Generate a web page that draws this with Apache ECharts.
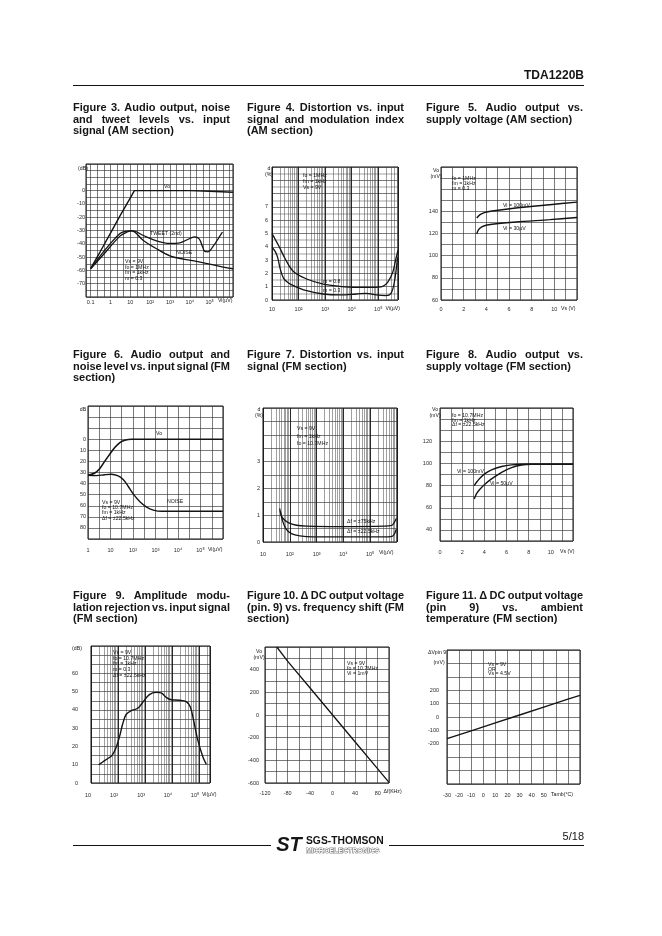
<!DOCTYPE html>
<html><head><meta charset="utf-8">
<script src="https://cdn.jsdelivr.net/npm/echarts@6.0.0/dist/echarts.min.js"></script>
<style>html,body{margin:0;padding:0;background:#fff}#c{width:662px;height:936px}</style>
</head><body><div id="c"></div>
<script>
// ---------------- DATA ----------------
// Figure 3 (AM): audio output, noise, tweet vs input signal
const f3XTicks = ['0.1','1','10','10²','10³','10⁴','10⁵'];
const f3YTicks = [0,-10,-20,-30,-40,-50,-60,-70];
const f3VoX = [0.1,0.3,1,3,10,16,100,1000,10000,100000,1500000];
const f3VoY = [-58.5,-46,-32,-19,-5.5,0,0,0,0,-0.5,-1.2];
const f3TweetX = [0.1,0.43,3,6.5,14,45,210,980,3150,10000,17800,29500,43500,56500,83000,148000,267000,440000];
const f3TweetY = [-58.75,-46.25,-32.25,-30.5,-30.25,-33.75,-37.75,-39.75,-39.25,-36,-34.75,-36.25,-42,-45.75,-46,-42,-36.25,-31.25];
const f3NoiseX = [0.1,0.43,3,6.5,11.6,45,210,980,4600,21700,100000,480000,1500000];
const f3NoiseY = [-58.75,-48.25,-34.25,-31.25,-30.25,-37.5,-43.75,-49,-51.5,-53.25,-55.25,-57.5,-58.75];

// Figure 4 (AM): distortion vs input signal
const f4XTicks = ['10','10²','10³','10⁴','10⁵'];
const f4YTicks = [0,1,2,3,4,5,6,7];
const f4M08X = [10,13.3,17.7,31.4,64,202,850,3550,14800,61700,146000,224000,349000,458000,550000];
const f4M08Y = [5.0,4.55,4.1,3.1,2.14,1.58,1.2,1.03,0.95,0.95,1.03,1.33,2.09,3.1,3.75];
const f4M03X = [10,13.3,16.3,20.4,27.3,42,64,202,850,3550,14800,35000,83000,195000,300000,400000,530000];
const f4M03Y = [3.97,3.64,3.2,2.34,1.63,1.28,1.08,0.7,0.45,0.38,0.45,0.5,0.38,0.33,0.5,1.33,3.2];

// Figure 5 (AM): audio output vs supply voltage
const f5XTicks = [0,2,4,6,8,10];
const f5YTicks = [60,80,100,120,140];
const f5HiX = [3.15,3.45,3.9,4.5,6.6,9.6,12];
const f5HiY = [134,137,139.1,140.3,143,146,148.3];
const f5LoX = [3.15,3.3,3.6,4.05,6.6,9.6,12];
const f5LoY = [119.5,123.2,125.9,127.7,130.4,132.5,134.5];

// Figure 6 (FM): audio output and noise vs input signal
const f6XTicks = ['1','10','10²','10³','10⁴','10⁵'];
const f6YTicks = [0,10,20,30,40,50,60,70,80];
const f6VoX = [1,2,3.3,5.5,9.3,15.5,26,43,86,1000000];
const f6VoY = [32.5,30.4,26.6,20,13.4,7.5,3,0.9,0,0];
const f6NoiseX = [1,2.36,5.5,11,22,36.6,61,102,203,400,800,1900,1000000];
const f6NoiseY = [32.5,32.8,32,31.6,33.1,36.4,42.4,49.3,56.4,61.2,63.9,65,65];

// Figure 7 (FM): distortion vs input signal
const f7XTicks = ['10','10²','10³','10⁴','10⁵'];
const f7YTicks = [0,1,2,3];
const f7HiX = [42,47,56,87,178,422,7500,316000,650000,810000,944000];
const f7HiY = [1.25,1.03,0.875,0.725,0.625,0.59,0.575,0.59,0.625,0.75,0.875];
const f7LoX = [44,53,71,115,237,750,316000,650000,810000,944000];
const f7LoY = [1.15,0.81,0.5,0.31,0.225,0.19,0.19,0.21,0.31,0.475];

// Figure 8 (FM): audio output vs supply voltage
const f8XTicks = [0,2,4,6,8,10];
const f8YTicks = [40,60,80,100,120];
const f8HiX = [3.09,3.3,3.6,4.05,4.65,5.56,6.46,7.36,12];
const f8HiY = [80,83,86.6,90.8,94.2,97.2,98.7,99.2,99.2];
const f8LoX = [3.09,3.3,3.6,4.05,4.65,5.56,6.46,7.36,8.26,12];
const f8LoY = [68,72.8,76.7,81.2,86,92,96.2,98.6,99.2,99.2];

// Figure 9 (FM): AM rejection vs input signal
const f9XTicks = ['10','10²','10³','10⁴','10⁵'];
const f9YTicks = [0,10,20,30,40,50,60];
const f9X = [19.2,27,41,60,84,112,149,198,305,535,820,1440,2560,3900,6000,9200,18600,33000,46500,62000,89000,137000,183000];
const f9Y = [10,11.5,13.3,15.1,19.3,25.1,32.4,37.5,39.6,40.9,44.2,48.4,49.6,49.3,46.9,45.6,45.3,44.5,41.8,34.2,23.3,14.2,10.2];

// Figure 10 (FM): DC output voltage vs frequency shift
const f10XTicks = [-120,-80,-40,0,40,80];
const f10YTicks = [-600,-400,-200,0,200,400];
const f10X = [-99,-80,-40,0,40,80,100];
const f10Y = [600,475,238,0,-238,-475,-594];

// Figure 11 (FM): DC output voltage vs ambient temperature
const f11XTicks = [-30,-20,-10,0,10,20,30,40,50];
const f11YTicks = [-200,-100,0,100,200];
const f11X = [-30,-10,10,30,50,70,80];
const f11Y = [-162,-103,-44,15,74,133,162];

// ---------------- LAYOUT / STYLE ----------------
const FF = '"Liberation Sans", Arial, Helvetica, sans-serif';
const INK = '#141414';
const GRIDC = '#333333';
const grids = [
  {left:86, top:164, width:147, height:133},
  {left:272, top:167, width:126, height:133},
  {left:441, top:167, width:136, height:133},
  {left:88, top:406, width:135, height:133},
  {left:263, top:408, width:134, height:134},
  {left:440, top:408, width:133, height:133},
  {left:91, top:646, width:119, height:137},
  {left:265, top:647, width:124, height:136},
  {left:447, top:650, width:133, height:134}
].map(g => Object.assign({show:true, borderColor:'#111', borderWidth:1, backgroundColor:'rgba(0,0,0,0)', containLabel:false}, g));

const valFmt = ticks => v => ticks.some(t => Math.abs(t - v) < 1e-6) ? String(v) : '';
const logFmt = (ticks, firstExp) => v => {
  const e = Math.log10(v), r = Math.round(e);
  if (Math.abs(e - r) > 1e-6) return '';
  const i = r - firstExp;
  return (i >= 0 && i < ticks.length) ? ticks[i] : '';
};
function axis(gi, type, min, max, interval, fmt, margin, extra) {
  const ax = {type, gridIndex:gi, min, max,
    axisLine:{show:false}, axisTick:{show:false},
    splitLine:{show:true, lineStyle:{color:GRIDC, width:0.65}},
    axisLabel:{fontSize:5.5, color:'#2a2a2a', fontFamily:FF, margin, formatter:fmt, showMinLabel:true, showMaxLabel:true}};
  if (interval != null) ax.interval = interval;
  if (type === 'log') ax.logBase = 10;
  if (extra) {
    if (extra.axisLabel) { Object.assign(ax.axisLabel, extra.axisLabel); delete extra.axisLabel; }
    Object.assign(ax, extra);
  }
  return ax;
}
const xAxes = [
  axis(0,'log',0.0581,1.503e6,null,logFmt(f3XTicks,-1),2),
  axis(1,'log',10,5.5e5,null,logFmt(f4XTicks,1),6, {splitLine:{show:true,lineStyle:{color:'#111',width:0.9}}}),
  axis(2,'value',0,12,1,valFmt(f5XTicks),6),
  axis(3,'log',1,1e6,null,logFmt(f6XTicks,0),8.5),
  axis(4,'log',10,1e6,null,logFmt(f7XTicks,1),9, {splitLine:{show:true,lineStyle:{color:'#111',width:0.9}}}),
  axis(5,'value',0,12,1,valFmt(f8XTicks),8),
  axis(6,'log',10,2.5e5,null,logFmt(f9XTicks,1),9.5, {axisLabel:{align:'right'}, splitLine:{show:true,lineStyle:{color:'#111',width:0.9}}}),
  axis(7,'value',-120,100,20,valFmt(f10XTicks),7),
  axis(8,'value',-30,80,10,valFmt(f11XTicks),8)
];
const yAxes = [
  axis(0,'value',-80,20,5,valFmt(f3YTicks),1),
  axis(1,'value',0,10,1,valFmt(f4YTicks),4, {minorTick:{show:false,splitNumber:2}, minorSplitLine:{show:true,lineStyle:{color:GRIDC,width:0.45}}}),
  axis(2,'value',60,180,10,valFmt(f5YTicks),3),
  axis(3,'value',-30,90,10,valFmt(f6YTicks),2, {inverse:true}),
  axis(4,'value',0,5,0.5,valFmt(f7YTicks),3),
  axis(5,'value',30,150,10,valFmt(f8YTicks),8),
  axis(6,'value',0,75,5,valFmt(f9YTicks),13),
  axis(7,'value',-600,600,100,valFmt(f10YTicks),6),
  axis(8,'value',-500,500,100,valFmt(f11YTicks),8)
];

function logPaper(lo, hi) { const out = []; for (let d = -2; d <= 7; d++) for (let k = 2; k <= 9; k++) { const v = k * Math.pow(10, d); if (v > lo * 1.0001 && v < hi * 0.9999) out.push(v); } return out; }
function logFrac(lo, hi, fr) { const out = []; for (let d = -3; d <= 7; d++) fr.forEach(f => { const v = Math.pow(10, d + f); if (v > lo * 1.0001 && v < hi * 0.9999) out.push(v); }); return out; }
function gridLines(gi, vals, color, width) {
  return {type:'line', xAxisIndex:gi, yAxisIndex:gi, data:[], silent:true, z:1,
    markLine:{silent:true, symbol:['none','none'], animation:false, label:{show:false}, emphasis:{disabled:true},
      lineStyle:{color, width, type:'solid'}, data: vals.map(v => ({xAxis:v}))}};
}
function curve(gi, xs, ys, smooth, w) {
  return {type:'line', xAxisIndex:gi, yAxisIndex:gi, data: xs.map((x, i) => [x, ys[i]]),
    symbol:'none', showSymbol:false, smooth: smooth || false, silent:true, z:5,
    lineStyle:{color:INK, width: w || 1.3}};
}
const series = [
  gridLines(0, logFrac(0.0581, 1.503e6, [1/3, 2/3]), GRIDC, 0.65),
  gridLines(1, logPaper(10, 5.5e5), '#404040', 0.5),
  gridLines(3, logFrac(1, 1e6, [0.5]), GRIDC, 0.65),
  gridLines(4, logPaper(10, 1e6), '#404040', 0.5),
  gridLines(6, logPaper(10, 2.5e5), '#404040', 0.5),
  curve(0, f3VoX, f3VoY, false, 1.4),
  curve(0, f3TweetX, f3TweetY, 0.35),
  curve(0, f3NoiseX, f3NoiseY, 0.35),
  curve(1, f4M08X, f4M08Y, 0.35),
  curve(1, f4M03X, f4M03Y, 0.35),
  curve(2, f5HiX, f5HiY, 0.3, 1.4),
  curve(2, f5LoX, f5LoY, 0.3, 1.4),
  curve(3, f6VoX, f6VoY, 0.3, 1.6),
  curve(3, f6NoiseX, f6NoiseY, 0.35, 1.4),
  curve(4, f7HiX, f7HiY, 0.35),
  curve(4, f7LoX, f7LoY, 0.35),
  curve(5, f8HiX, f8HiY, 0.3, 1.4),
  curve(5, f8LoX, f8LoY, 0.3, 1.4),
  curve(6, f9X, f9Y, 0.35, 1.4),
  curve(7, f10X, f10Y, false, 1.3),
  curve(8, f11X, f11Y, false, 1.4)
];

// ---------------- TEXT ----------------
const G = [];
function T(text, x, y, o) {
  o = o || {};
  G.push({type:'text', x, y, silent:true, z:100, style:{text, fill:o.fill || '#151515', stroke:o.stroke, lineWidth:o.lw,
    font:o.font || ('5.2px ' + FF), textAlign:o.align || 'left', align:o.align || 'left',
    textVerticalAlign:o.va || 'middle', verticalAlign:o.va || 'middle', lineHeight:o.lh}});
}
function L(x1, y1, x2, y2, w) { G.push({type:'line', silent:true, z:100, shape:{x1, y1, x2, y2}, style:{stroke:'#111', lineWidth:w || 1}}); }

// header / footer
T('TDA1220B', 584, 75.5, {align:'right', font:'bold 12px ' + FF});
L(73, 85.5, 584, 85.5, 1);
L(73, 845.5, 271, 845.5, 1);
L(389, 845.5, 584, 845.5, 1);
T('5/18', 584, 837, {align:'right', font:'11px ' + FF});
T('ST', 289, 845.5, {align:'center', font:'italic bold 20px ' + FF});
T('SGS-THOMSON', 306, 841, {font:'bold 10.3px ' + FF});
T('MICROELECTRONICS', 306, 851, {font:'bold 7px ' + FF, fill:'#fff', stroke:'#222', lw:0.6});

// figure titles (justified)
const TF = 'bold 11px ' + FF;
const COLW = 157;
const titles = [
  {x:73, y:108, lines:[['Figure 3. Audio output, noise',1],['and tweet levels vs. input',1],['signal (AM section)',0]]},
  {x:247, y:108, lines:[['Figure 4. Distortion vs. input',1],['signal and modulation index',1],['(AM section)',0]]},
  {x:426, y:108, lines:[['Figure 5. Audio output vs.',1],['supply voltage (AM section)',0]]},
  {x:73, y:355, lines:[['Figure 6. Audio output and',1],['noise level vs. input signal (FM',1],['section)',0]]},
  {x:247, y:355, lines:[['Figure 7. Distortion vs. input',1],['signal (FM section)',0]]},
  {x:426, y:355, lines:[['Figure 8. Audio output vs.',1],['supply voltage (FM section)',0]]},
  {x:73, y:596, lines:[['Figure 9. Amplitude modu-',1],['lation rejection vs. input signal',1],['(FM section)',0]]},
  {x:247, y:596, lines:[['Figure 10. Δ DC output voltage',1],['(pin. 9) vs. frequency shift (FM',1],['section)',0]]},
  {x:426, y:596, lines:[['Figure 11. Δ DC output voltage',1],['(pin 9) vs. ambient',1],['temperature (FM section)',0]]}
];
const mctx = document.createElement('canvas').getContext('2d');
mctx.font = TF;
titles.forEach(t => t.lines.forEach((ln, i) => {
  const y = t.y + i * 11.5;
  const words = ln[0].split(' ');
  if (ln[1] && words.length > 1) {
    const ws = words.map(s => mctx.measureText(s).width);
    const gap = (COLW - ws.reduce((a, b) => a + b, 0)) / (words.length - 1);
    let cx = t.x;
    words.forEach((s, k) => { T(s, cx, y, {font:TF}); cx += ws[k] + gap; });
  } else T(ln[0], t.x, y, {font:TF});
}));

// in-chart annotations
const A = (s, x, y, lh, al) => T(s, x, y, {va: lh ? 'top' : 'middle', lh: lh, align: al});
// fig 3
A('(dB)', 83, 169, 0, 'center');
A('Vo', 164, 186.5);
A('TWEET (2nd)', 150, 234);
A('NOISE', 176, 253);
A('Vs = 9V\nfo = 1MHz\nfm = 1kHz\nm = 0.3', 125, 259, 5.5);
A('Vi(µV)', 218, 301);
// fig 4
A('d\n(%)', 269, 166, 5.5, 'center');
A('fo = 1MHz\nfm = 1kHz\nVs = 9V', 303, 173, 6);
A('m = 0.8', 323, 281.5);
A('m = 0.3', 323, 291);
A('Vi(µV)', 385.5, 309);
// fig 5
A('Vo\n(mV)', 436, 168, 5.5, 'center');
A('fo = 1MHz\nfm = 1kHz\nm = 0.3', 452, 176, 5);
A('Vi = 100mV', 503, 205.5);
A('Vi = 30µV', 503, 229);
A('Vs (V)', 561, 309);
// fig 6
A('dB', 83, 410, 0, 'center');
A('Vo', 156, 434);
A('NOISE', 167, 501.5);
A('Vs = 9V\nfo = 10.7MHz\nfm = 1kHz\nΔf = ±22.5kHz', 102, 499.5, 5.4);
A('Vi(µV)', 208, 550);
// fig 7
A('d\n(%)', 259, 407, 5.5, 'center');
A('Vs = 9V\nfm = 1kHz\nfo = 10.7MHz', 297, 425, 7.5);
A('Δf = ±75kHz', 347, 522);
A('Δf = ±22.5kHz', 347, 531.5);
A('Vi(µV)', 379, 553);
// fig 8
A('Vo\n(mV)', 435, 407, 5.5, 'center');
A('fo = 10.7MHz\nfm = 1kHz\nΔf = ±22.5kHz', 452, 413, 4.8);
A('Vi = 100mV', 457, 472);
A('Vi = 50µV', 490, 484);
A('Vs (V)', 560, 552);
// fig 9
A('(dB)', 77, 649, 0, 'center');
A('Vs = 9V\nfo = 10.7MHz\nfm = 1kHz\nm = 0.3\nΔf = ±22.5kHz', 113, 650, 5.6);
A('Vi(µV)', 202, 795);
// fig 10
A('Vo\n(mV)', 259, 649, 5.5, 'center');
A('Vs = 9V\nfo = 10.7MHz\nVi = 1mV', 347, 661.5, 5);
A('Δf(KHz)', 383.5, 792);
// fig 11
A('ΔVpin 9', 437, 653, 0, 'center');
A('(mV)', 439, 663, 0, 'center');
A('Vs = 9V\nOR\nVs = 4.5V', 488, 662.5, 4.4);
A('Tamb(°C)', 551, 795);

const chart = echarts.init(document.getElementById('c'), null, {renderer:'canvas', width:662, height:936});
chart.setOption({
  backgroundColor:'#ffffff',
  animation:false,
  grid: grids,
  xAxis: xAxes,
  yAxis: yAxes,
  series: series,
  graphic: G
});
</script></body></html>
